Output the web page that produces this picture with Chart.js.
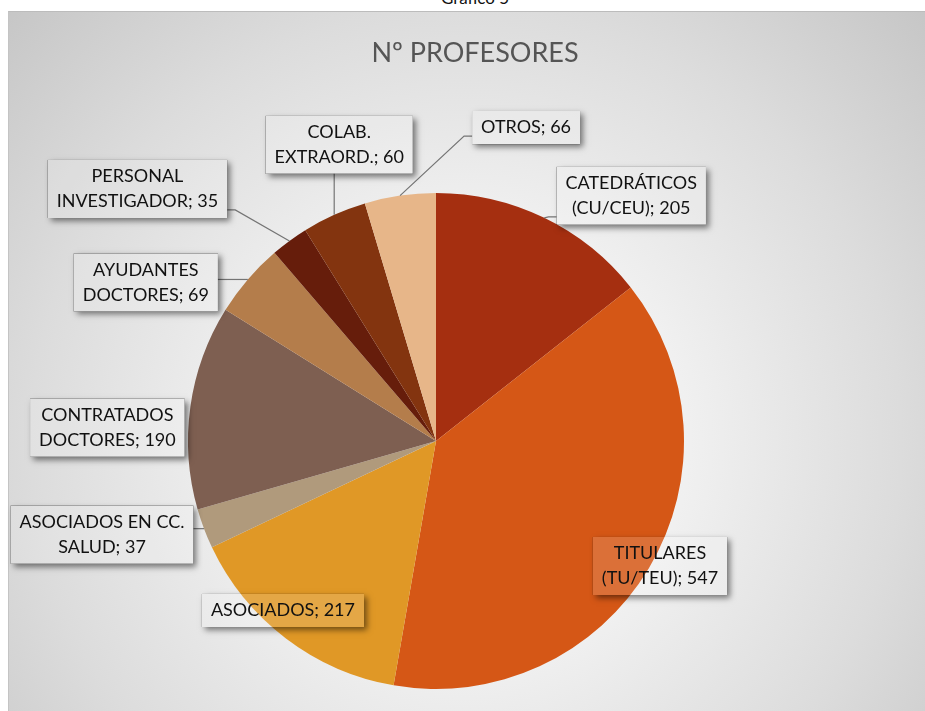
<!DOCTYPE html>
<html lang="es">
<head>
<meta charset="utf-8">
<title>Nº PROFESORES</title>
<script src="https://cdn.jsdelivr.net/npm/chart.js@4.4.1/dist/chart.umd.min.js"></script>
<style>
  html, body { margin: 0; padding: 0; background: #fff; }
  body { width: 925px; height: 711px; position: relative; overflow: hidden; font-family: Lato, sans-serif; }
  #caption { position: absolute; left: 0; width: 950px; top: -11px; line-height: 17px; text-align: center; font-size: 17px; color: #111; }
  #frame {
    position: absolute; left: 8px; top: 11px; width: 930px; height: 710px;
    border-top: 1px solid #bcbcbc; border-left: 1px solid #c4c4c4;
    background: radial-gradient(circle 640px at 457px 430px, #fbfbfb 0%, #f0f0f0 35%, #dcdcdc 68%, #c5c5c5 100%);
  }
  canvas { position: absolute; left: 0; top: 0; }
</style>
</head>
<body>
<div id="caption">Gráfico 5</div>
<div id="frame"></div>
<canvas id="pieChart" width="925" height="711"></canvas>
<script>
const categories = [
    'CATEDRÁTICOS (CU/CEU)',
    'TITULARES (TU/TEU)',
    'ASOCIADOS',
    'ASOCIADOS EN CC. SALUD',
    'CONTRATADOS DOCTORES',
    'AYUDANTES DOCTORES',
    'PERSONAL INVESTIGADOR',
    'COLAB. EXTRAORD.',
    'OTROS'
];
const profesores = [205, 547, 217, 37, 190, 69, 35, 60, 66];
const sliceColors = ['#a52f10', '#d55716', '#e09826', '#b09a7c', '#7e5f51', '#b47d4b', '#661d0b', '#83340f', '#e7b689'];

// words on the first line of each label (0 = single line)
const labelBreaks = [1, 1, 0, 3, 1, 1, 1, 1, 0];
// label box centre, relative to the point where the slice meets the rim
const labelOffsets = [[87, -22], [11, -2], [-3, -28], [-102, 6], [-83, 21], [-102, 3], [-152, -52], [5, -70], [126, -68]];
const showLeader = [true, false, false, true, false, true, true, true, true];

function attachPoint(b) {
    const right = b.left + b.w, bottom = b.top + b.h;
    if (b.ax < b.left || b.ax > right) {
        const x = b.ax < b.left ? b.left : right;
        const y = Math.min(Math.max(b.ay, b.top + 8), bottom - 8);
        return { x, y, dir: b.ax < b.left ? -1 : 1 };
    }
    return { x: b.ax, y: b.ay > bottom ? bottom : b.top, dir: 0 };
}

const sliceLabels = {
    id: 'sliceLabels',
    afterDatasetsDraw(chart) {
        const ctx = chart.ctx;
        const meta = chart.getDatasetMeta(0);
        const lineH = 25, padX = 9, padY = 4;

        ctx.save();
        ctx.font = '18px Lato, sans-serif';

        const boxes = meta.data.map((arc, i) => {
            const p = arc.getProps(['x', 'y', 'startAngle', 'endAngle', 'outerRadius'], true);
            const mid = (p.startAngle + p.endAngle) / 2;
            const ax = p.x + Math.cos(mid) * p.outerRadius;
            const ay = p.y + Math.sin(mid) * p.outerRadius;
            const words = `${categories[i]}; ${profesores[i]}`.split(' ');
            const n = labelBreaks[i];
            const lines = n ? [words.slice(0, n).join(' '), words.slice(n).join(' ')] : [words.join(' ')];
            const w = Math.max(...lines.map(l => ctx.measureText(l).width)) + padX * 2;
            const h = lines.length * lineH + padY * 2;
            const cx = ax + labelOffsets[i][0];
            const cy = ay + labelOffsets[i][1];
            return { ax, ay, lines, cx, cy, w, h, left: cx - w / 2, top: cy - h / 2 };
        });

        // leader lines
        ctx.strokeStyle = '#747474';
        ctx.lineWidth = 1.2;
        boxes.forEach((b, i) => {
            if (!showLeader[i]) return;
            const a = attachPoint(b);
            ctx.beginPath();
            ctx.moveTo(b.ax, b.ay);
            if (a.dir) ctx.lineTo(a.x + a.dir * 8, a.y);
            ctx.lineTo(a.x, a.y);
            ctx.stroke();
        });

        // boxes: shadow outside, light fill inside
        boxes.forEach(b => {
            ctx.save();
            ctx.beginPath();
            ctx.rect(0, 0, chart.width, chart.height);
            ctx.rect(b.left, b.top, b.w, b.h);
            ctx.clip('evenodd');
            ctx.shadowColor = 'rgba(0,0,0,0.5)';
            ctx.shadowBlur = 6;
            ctx.shadowOffsetX = 3;
            ctx.shadowOffsetY = 3;
            ctx.fillStyle = '#000';
            ctx.fillRect(b.left, b.top, b.w, b.h);
            ctx.restore();
            ctx.fillStyle = 'rgba(255,255,255,0.15)';
            ctx.fillRect(b.left, b.top, b.w, b.h);
        });

        ctx.fillStyle = '#111';
        ctx.textAlign = 'center';
        ctx.textBaseline = 'middle';
        boxes.forEach(b => {
            b.lines.forEach((line, j) => {
                ctx.fillText(line, b.cx, b.cy + (j - (b.lines.length - 1) / 2) * lineH);
            });
        });

        // chart title
        ctx.font = '27px Lato, sans-serif';
        ctx.fillStyle = '#555';
        ctx.textBaseline = 'alphabetic';
        ctx.fillText('Nº PROFESORES', 475, 62);
        ctx.restore();
    }
};

new Chart(document.getElementById('pieChart'), {
    type: 'pie',
    data: {
        labels: categories,
        datasets: [{
            data: profesores,
            backgroundColor: sliceColors,
            borderWidth: 0,
            offset: 0,
            hoverOffset: 0
        }]
    },
    options: {
        responsive: false,
        animation: false,
        events: [],
        layout: { padding: { left: 188, top: 193, right: 241, bottom: 22 } },
        plugins: {
            legend: { display: false },
            tooltip: { enabled: false },
            title: { display: false }
        }
    },
    plugins: [sliceLabels]
});
</script>
</body>
</html>
